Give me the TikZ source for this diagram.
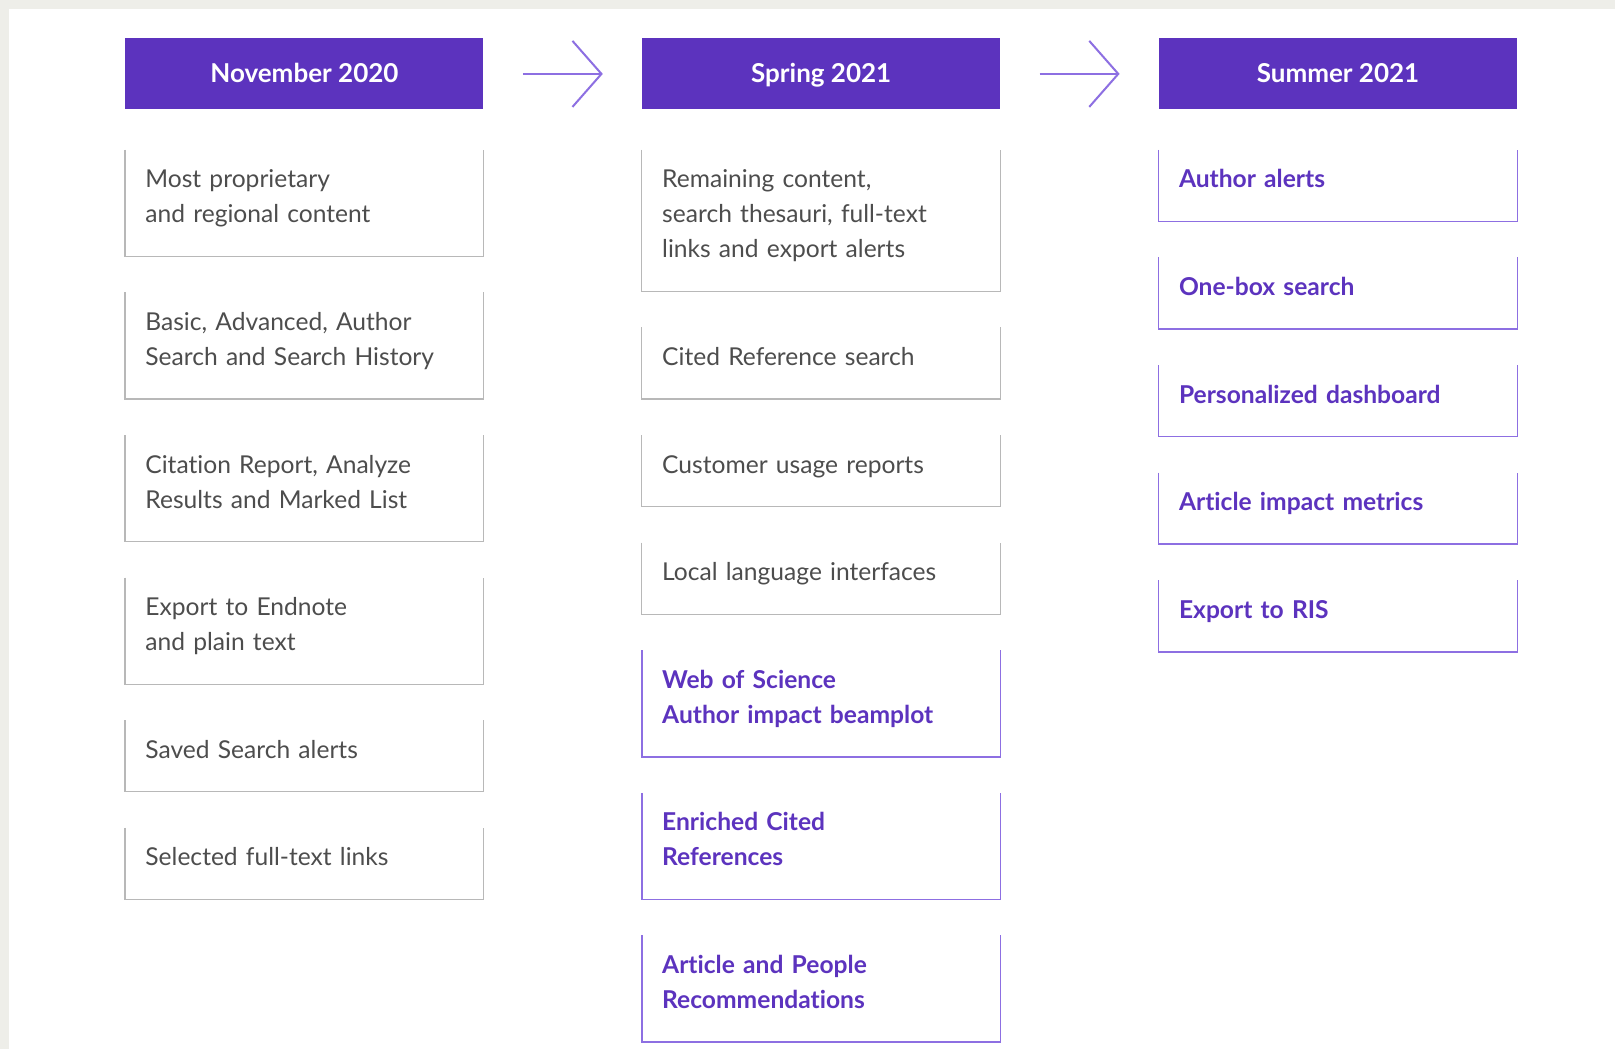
\documentclass[tikz,border=0pt]{standalone}
\usepackage{fontspec}
\setmainfont{Lato}[Ligatures=NoCommon]
\usetikzlibrary{positioning,arrows.meta}

\definecolor{wospurple}{HTML}{5C33BE}
\definecolor{wosline}{HTML}{8D6FE2}
\definecolor{wosgrey}{HTML}{4D4D4D}
\definecolor{wosframe}{HTML}{B8B8B8}
\definecolor{wosmargin}{HTML}{EEEEE9}

\begin{document}
\begin{tikzpicture}[
    x=0.5pt, y=-0.5pt,
    node distance=18pt,
    phase/.style={fill=wospurple, text=white, font=\fontsize{13}{15}\selectfont\bfseries,
      minimum width=179pt, minimum height=35.5pt, inner sep=0pt,
      text height=10.2pt, text depth=1.6pt},
    item/.style={text width=159pt, inner xsep=10pt, inner ysep=0pt, align=left,
      text=wosgrey, font=\fontsize{12.3}{17.5}\selectfont,
      execute at begin node={\rule{0pt}{18.8pt}},
      execute at end node={\rule[-16.6pt]{0pt}{16.6pt}}},
    news/.style={item, text=wospurple, font=\fontsize{12.3}{17.5}\selectfont\bfseries},
    flow/.style={wosline, line width=1pt, -{Straight Barb[length=14.5pt,width=33pt]},
      shorten <=19.5pt, shorten >=19.5pt}
  ]
  % page and margin
  \fill[wosmargin] (0,0) rectangle (1615,1049);
  \fill[white] (9,9) rectangle (1615,1049);
  \useasboundingbox (0,0) rectangle (1615,1049);

  % phases
  \node[phase, anchor=north west] (nov) at (125,38) {November 2020};
  \node[phase, right=79pt of nov] (spring) {Spring 2021};
  \node[phase, right=79pt of spring] (summer) {Summer 2021};

  \draw[flow] (nov) -- (spring);
  \draw[flow] (spring) -- (summer);

  % November 2020
  \node[item, below=20pt of nov] (l1) {Most proprietary\\and regional content};
  \node[item, below=of l1] (l2) {Basic, Advanced, Author\\Search and Search History};
  \node[item, below=of l2] (l3) {Citation Report, Analyze\\Results and Marked List};
  \node[item, below=of l3] (l4) {Export to Endnote\\and plain text};
  \node[item, below=of l4] (l5) {Saved Search alerts};
  \node[item, below=of l5] (l6) {Selected full-text links};

  % Spring 2021
  \node[item, below=20pt of spring] (m1) {Remaining content,\\search thesauri, full-text\\links and export alerts};
  \node[item, below=of m1] (m2) {Cited Reference search};
  \node[item, below=of m2] (m3) {Customer usage reports};
  \node[item, below=of m3] (m4) {Local language interfaces};
  \node[news, below=of m4] (m5) {Web of Science\\Author impact beamplot};
  \node[news, below=of m5] (m6) {Enriched Cited\\References};
  \node[news, below=of m6] (m7) {Article and People\\Recommendations};

  % Summer 2021
  \node[news, below=20pt of summer] (r1) {Author alerts};
  \node[news, below=of r1] (r2) {One-box search};
  \node[news, below=of r2] (r3) {Personalized dashboard};
  \node[news, below=of r3] (r4) {Article impact metrics};
  \node[news, below=of r4] (r5) {Export to RIS};

  % open-top frames
  \foreach \i in {1,...,6}
    \draw[wosframe, line width=0.6pt] (l\i.north west) |- (l\i.south east) -- (l\i.north east);
  \foreach \i in {1,...,4}
    \draw[wosframe, line width=0.6pt] (m\i.north west) |- (m\i.south east) -- (m\i.north east);
  \foreach \i in {5,6,7}
    \draw[wosline, line width=0.8pt] (m\i.north west) |- (m\i.south east) -- (m\i.north east);
  \foreach \i in {1,...,5}
    \draw[wosline, line width=0.8pt] (r\i.north west) |- (r\i.south east) -- (r\i.north east);
\end{tikzpicture}
\end{document}
